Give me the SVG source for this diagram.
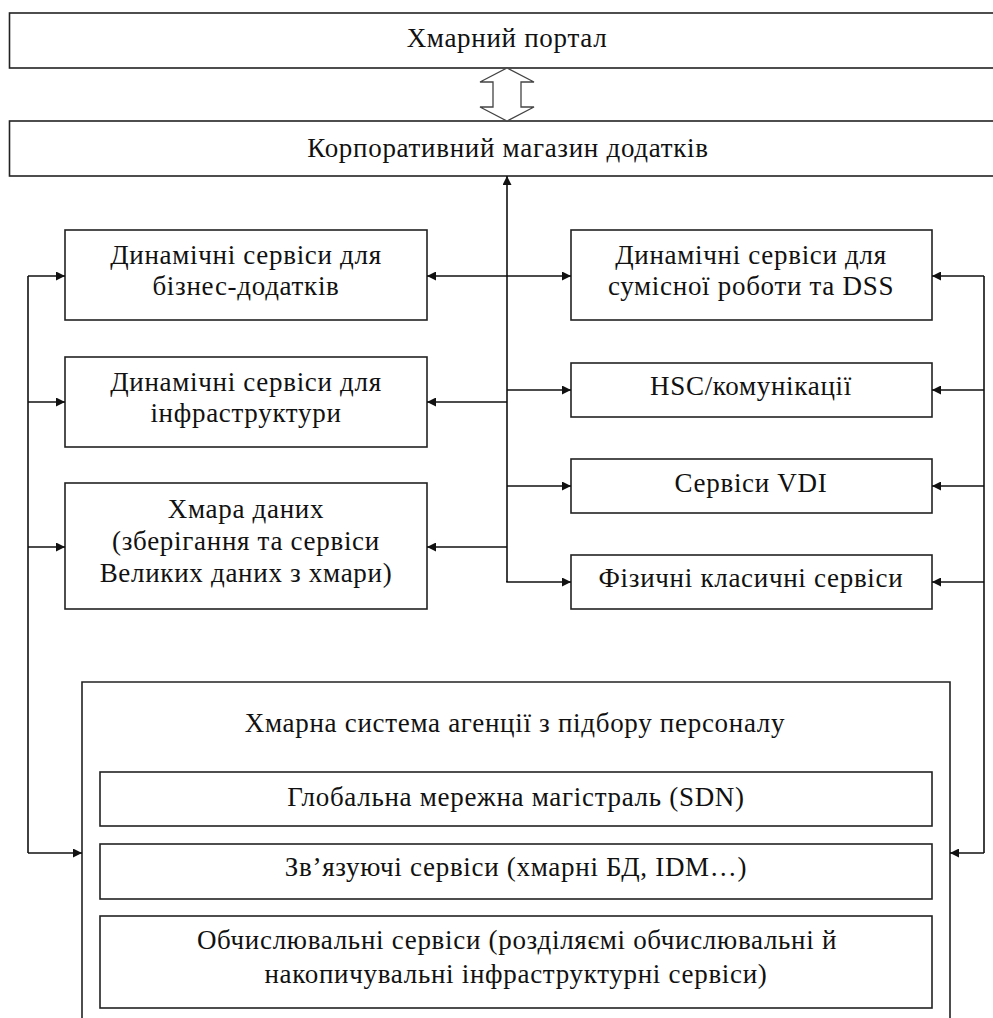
<svg xmlns="http://www.w3.org/2000/svg" width="993" height="1018" viewBox="0 0 993 1018">
<defs>
<style>
.box{fill:#fff;stroke:#222;stroke-width:1.6}
.t{font-family:'Liberation Serif','Times New Roman',Times,serif;font-size:27px;letter-spacing:0.7px;fill:#111;text-anchor:middle}
.ln{fill:none;stroke:#111;stroke-width:1.6}
</style>
<marker id="ah" viewBox="0 0 10 10" refX="10" refY="5" markerWidth="10" markerHeight="9" markerUnits="userSpaceOnUse" orient="auto">
<path d="M0,0 L10,5 L0,10 z" fill="#111"/>
</marker>
</defs>
<rect width="993" height="1018" fill="#fff"/>
<g id="portal">
<rect class="box" x="9.5" y="13" width="990" height="55"/>
<text class="t" x="507" y="47">Хмарний портал</text>
</g>
<g id="store">
<rect class="box" x="9.5" y="121" width="990" height="55"/>
<text class="t" x="508" y="157">Корпоративний магазин додатків</text>
</g>

<g id="biz">
<rect class="box" x="65" y="230" width="362" height="90"/>
<text class="t" x="246" y="264">Динамічні сервіси для</text>
<text class="t" x="246" y="295">бізнес-додатків</text>
</g>
<g id="infra">
<rect class="box" x="65" y="357" width="362" height="90"/>
<text class="t" x="246" y="391">Динамічні сервіси для</text>
<text class="t" x="246" y="422">інфраструктури</text>
</g>
<g id="data">
<rect class="box" x="65" y="483" width="362" height="126"/>
<text class="t" x="246" y="518">Хмара даних</text>
<text class="t" x="246" y="550">(зберігання та сервіси</text>
<text class="t" x="246" y="582">Великих даних з хмари)</text>
</g>

<g id="collab">
<rect class="box" x="571" y="230" width="361" height="90"/>
<text class="t" x="751" y="264">Динамічні сервіси для</text>
<text class="t" x="751" y="295">сумісної роботи та DSS</text>
</g>
<g id="hsc">
<rect class="box" x="571" y="363" width="361" height="54"/>
<text class="t" x="751" y="395">HSC/комунікації</text>
</g>
<g id="vdi">
<rect class="box" x="571" y="459" width="361" height="54"/>
<text class="t" x="751" y="492">Сервіси VDI</text>
</g>
<g id="phys">
<rect class="box" x="571" y="555" width="361" height="54"/>
<text class="t" x="751" y="587">Фізичні класичні сервіси</text>
</g>

<g id="agency">
<path class="box" d="M82,1020 V682 H950 V1020"/>
<text class="t" x="515" y="732">Хмарна система агенції з підбору персоналу</text>
<rect class="box" x="100" y="772" width="832" height="54"/>
<text class="t" x="516" y="806">Глобальна мережна магістраль (SDN)</text>
<rect class="box" x="100" y="844" width="832" height="55"/>
<text class="t" x="516" y="876">Зв’язуючі сервіси (хмарні БД, IDM…)</text>
<rect class="box" x="100" y="916" width="832" height="92"/>
<text class="t" x="517" y="949">Обчислювальні сервіси (розділяємі обчислювальні й</text>
<text class="t" x="516" y="983">накопичувальні інфраструктурні сервіси)</text>
</g>
<g id="connectors">
<path d="M507,68 L534,82 L521,82 L521,107 L534,107 L507,121 L480,107 L493,107 L493,82 L480,82 Z" fill="#fff" stroke="#444" stroke-width="1.3"/>
<path class="ln" d="M507,582 V176" marker-end="url(#ah)"/>
<path class="ln" d="M507,276 H427" marker-end="url(#ah)"/>
<path class="ln" d="M507,276 H571" marker-end="url(#ah)"/>
<path class="ln" d="M507,390 H571" marker-end="url(#ah)"/>
<path class="ln" d="M507,402 H427" marker-end="url(#ah)"/>
<path class="ln" d="M507,486 H571" marker-end="url(#ah)"/>
<path class="ln" d="M507,547 H427" marker-end="url(#ah)"/>
<path class="ln" d="M507,581 V582 H571" marker-end="url(#ah)"/>
<path class="ln" d="M28,853 V276"/>
<path class="ln" d="M28,276 H65" marker-end="url(#ah)"/>
<path class="ln" d="M28,402 H65" marker-end="url(#ah)"/>
<path class="ln" d="M28,547 H65" marker-end="url(#ah)"/>
<path class="ln" d="M28,853 H82" marker-end="url(#ah)"/>
<path class="ln" d="M984,853 V276"/>
<path class="ln" d="M984,276 H932" marker-end="url(#ah)"/>
<path class="ln" d="M984,390 H932" marker-end="url(#ah)"/>
<path class="ln" d="M984,486 H932" marker-end="url(#ah)"/>
<path class="ln" d="M984,582 H932" marker-end="url(#ah)"/>
<path class="ln" d="M984,853 H950" marker-end="url(#ah)"/>
</g>
</svg>
